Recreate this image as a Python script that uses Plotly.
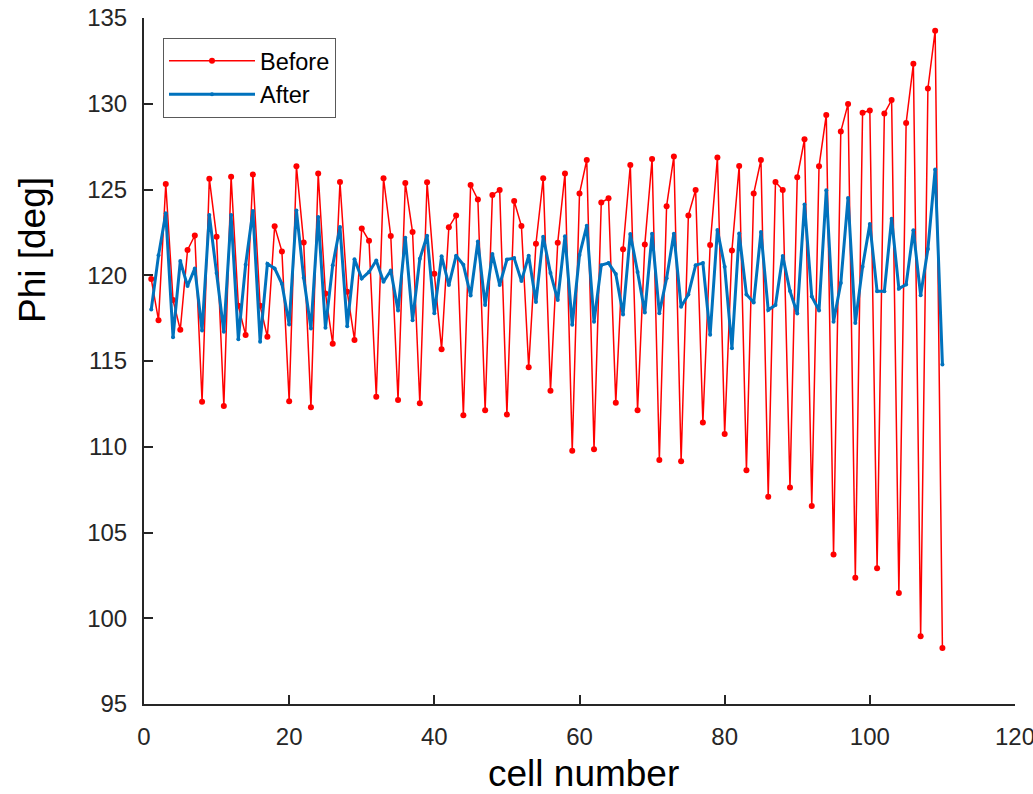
import plotly.graph_objects as go

cells = list(range(1, 111))

before = [
    119.78, 117.38, 125.32, 118.55, 116.82, 121.47, 122.32, 112.62, 125.63, 122.25,
    112.38, 125.75, 118.22, 116.51, 125.87, 118.22, 116.41, 122.85, 121.39, 112.66,
    126.35, 121.91, 112.31, 125.93, 118.94, 116.00, 125.44, 119.04, 116.23, 122.73,
    122.01, 112.91, 125.65, 122.29, 112.73, 125.38, 122.52, 112.54, 125.42, 120.09,
    115.69, 122.80, 123.49, 111.84, 125.26, 124.41, 112.13, 124.68, 124.97, 111.88,
    124.33, 122.87, 114.64, 121.84, 125.65, 113.26, 121.90, 125.94, 109.77, 124.76,
    126.72, 109.85, 124.24, 124.49, 112.56, 121.51, 126.43, 112.13, 121.80, 126.78,
    109.23, 124.03, 126.93, 109.15, 123.49, 124.97, 111.41, 121.76, 126.86, 110.75,
    121.45, 126.37, 108.63, 124.76, 126.72, 107.09, 125.44, 124.97, 107.62, 125.71,
    127.93, 106.54, 126.35, 129.35, 103.72, 128.38, 129.99, 102.36, 129.48, 129.60,
    102.92, 129.43, 130.22, 101.47, 128.88, 132.33, 98.95, 130.89, 134.26, 98.27,
]

after = [
    118.00, 121.16, 123.61, 116.39, 120.83, 119.37, 120.40, 116.78, 123.51, 120.13,
    116.70, 123.51, 116.27, 120.61, 123.75, 116.12, 120.67, 120.40, 119.50, 117.13,
    123.77, 119.85, 116.89, 123.40, 116.94, 120.59, 122.81, 117.03, 120.94, 119.81,
    120.19, 120.86, 119.62, 120.28, 117.95, 122.19, 117.38, 120.96, 122.31, 117.79,
    121.11, 119.43, 121.14, 120.61, 118.82, 121.97, 118.26, 121.24, 119.43, 120.92,
    121.00, 119.66, 121.14, 118.44, 122.25, 120.13, 118.55, 122.27, 117.11, 121.18,
    122.88, 117.29, 120.59, 120.71, 120.07, 117.71, 122.41, 120.19, 117.83, 122.42,
    117.79, 119.83, 122.42, 118.16, 118.88, 120.59, 120.71, 116.53, 122.64, 120.50,
    115.75, 122.43, 118.88, 118.41, 122.52, 117.97, 118.26, 121.12, 119.08, 117.77,
    124.13, 118.76, 117.95, 124.95, 117.29, 119.55, 124.51, 117.21, 120.50, 122.99,
    119.06, 119.06, 123.30, 119.22, 119.46, 122.62, 118.83, 121.53, 126.17, 114.80,
]

x_ticks = [0, 20, 40, 60, 80, 100, 120]
y_ticks = [95, 100, 105, 110, 115, 120, 125, 130, 135]

FONT = "Liberation Sans, Arial, Helvetica, sans-serif"
AXC = "#262626"

fig = go.Figure()
fig.add_trace(go.Scatter(
    x=cells, y=before, mode="lines+markers", name="Before",
    line=dict(color="#FF0000", width=1.5),
    marker=dict(color="#FF0000", size=6, line=dict(width=0)),
))
fig.add_trace(go.Scatter(
    x=cells, y=after, mode="lines+markers", name="After",
    line=dict(color="#0072BD", width=3),
    marker=dict(color="#0072BD", size=4, line=dict(width=0)),
))

W, H = 1033, 794
L, R, T, B = 144, 18, 18, 90
pw, ph = W - L - R, H - T - B

axis_common = dict(
    ticks="inside", ticklen=9, tickwidth=1.5, tickcolor=AXC,
    showline=True, linecolor=AXC, linewidth=2, mirror=False,
    showgrid=False, zeroline=False, ticklabelstandoff=10,
    ticklabeloverflow="allow", automargin=False,
    tickfont=dict(family=FONT, size=24, color=AXC),
)

fig.update_layout(
    width=W, height=H,
    margin=dict(l=L, r=R, t=T, b=B, pad=0, autoexpand=False),
    paper_bgcolor="white", plot_bgcolor="white",
    font=dict(family=FONT, color=AXC, size=24),
    showlegend=True,
    legend=dict(
        x=(163 - L) / pw, y=(H - B - 38) / ph, xanchor="left", yanchor="top",
        bgcolor="white", bordercolor="#595959", borderwidth=1,
        font=dict(family=FONT, size=23.5, color="black"),
        itemwidth=86, tracegroupgap=0,
    ),
    xaxis=dict(range=[0, 120], tickvals=x_ticks,
               ticktext=[str(v) for v in x_ticks], **axis_common),
    yaxis=dict(range=[95, 135], tickvals=y_ticks,
               ticktext=[str(v) for v in y_ticks], **axis_common),
    annotations=[
        dict(text="cell number", xref="paper", yref="paper",
             x=(583 - L) / pw, y=(H - B - 773) / ph, xanchor="center", yanchor="middle",
             showarrow=False, font=dict(family=FONT, size=37, color="black")),
        dict(text="Phi [deg]", xref="paper", yref="paper", textangle=-90,
             x=(33 - L) / pw, y=(H - B - 250) / ph, xanchor="center", yanchor="middle",
             showarrow=False, font=dict(family=FONT, size=37, color="black")),
    ],
)

fig.write_html(
    "out.html",
    config={"displayModeBar": False},
    post_script="document.body.style.margin='0px';document.body.style.overflow='hidden';",
)
